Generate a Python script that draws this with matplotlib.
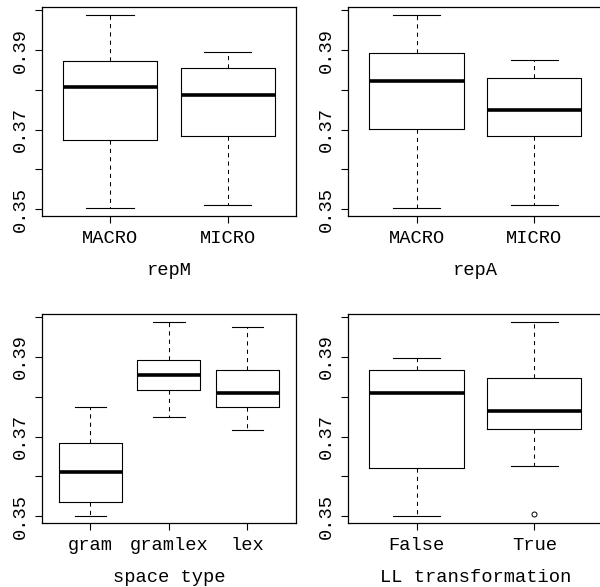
import matplotlib
matplotlib.use("Agg")
import matplotlib.pyplot as plt

plt.rcParams['font.family'] = ['Liberation Mono', 'DejaVu Sans Mono']

# ---- data ----
repM_groups = ["MACRO", "MICRO"]
repM_whislo = [0.3503, 0.3509]
repM_q1 = [0.3674, 0.3683]
repM_med = [0.3806, 0.3788]
repM_q3 = [0.3872, 0.3856]
repM_whishi = [0.3988, 0.3896]
repM_fliers = [[], []]

repA_groups = ["MACRO", "MICRO"]
repA_whislo = [0.3503, 0.3509]
repA_q1 = [0.3702, 0.3683]
repA_med = [0.3823, 0.3750]
repA_q3 = [0.3892, 0.3829]
repA_whishi = [0.3988, 0.3874]
repA_fliers = [[], []]

space_groups = ["gram", "gramlex", "lex"]
space_whislo = [0.3501, 0.3750, 0.3717]
space_q1 = [0.3537, 0.3817, 0.3774]
space_med = [0.3610, 0.3854, 0.3810]
space_q3 = [0.3683, 0.3891, 0.3867]
space_whishi = [0.3775, 0.3988, 0.3974]
space_fliers = [[], [], []]

ll_groups = ["False", "True"]
ll_whislo = [0.3501, 0.3626]
ll_q1 = [0.3620, 0.3719]
ll_med = [0.3810, 0.3763]
ll_q3 = [0.3866, 0.3846]
ll_whishi = [0.3896, 0.3988]
ll_fliers = [[], [0.3507]]

ytick_values = [0.35, 0.36, 0.37, 0.38, 0.39, 0.40]
ytick_labels = ["0.35", "", "0.37", "", "0.39", ""]

panels = [
    ("repM", repM_groups, repM_whislo, repM_q1, repM_med, repM_q3, repM_whishi, repM_fliers),
    ("repA", repA_groups, repA_whislo, repA_q1, repA_med, repA_q3, repA_whishi, repA_fliers),
    ("space type", space_groups, space_whislo, space_q1, space_med, space_q3, space_whishi, space_fliers),
    ("LL transformation", ll_groups, ll_whislo, ll_q1, ll_med, ll_q3, ll_whishi, ll_fliers),
]

W, H = 600, 587
rects_px = [
    (41.7, 7.3, 254.3, 208.7),
    (348.3, 7.3, 254.3, 208.7),
    (41.7, 314.0, 254.3, 209.3),
    (348.3, 314.0, 254.3, 209.3),
]

FS = 13.5
fig = plt.figure(figsize=(W / 100, H / 100), dpi=100)

for (title, groups, wlo, q1, med, q3, whi, fl), (x, y, w, h) in zip(panels, rects_px):
    ax = fig.add_axes([x / W, (H - y - h) / H, w / W, h / H])
    n = len(groups)
    stats = []
    for i in range(n):
        stats.append(dict(whislo=wlo[i], q1=q1[i], med=med[i], q3=q3[i],
                          whishi=whi[i], fliers=fl[i], label=groups[i]))
    ax.bxp(stats, positions=list(range(1, n + 1)), widths=0.8, capwidths=0.4,
           showfliers=True,
           boxprops=dict(color='black', lw=0.8),
           medianprops=dict(color='black', lw=2.6, solid_capstyle='butt'),
           whiskerprops=dict(color='black', lw=0.75, linestyle=(0, (4, 4))),
           capprops=dict(color='black', lw=0.8),
           flierprops=dict(marker='o', markerfacecolor='none', markeredgecolor='black',
                           markersize=3.6, markeredgewidth=0.7, linestyle='none'))
    ax.set_xlim(0.5 - 0.04 * n, n + 0.5 + 0.04 * n)
    ax.set_ylim(0.34825, 0.40075)
    ax.set_yticks(ytick_values)
    ax.set_yticklabels(ytick_labels)
    ax.set_xticks(list(range(1, n + 1)))
    ax.set_xticklabels(groups)
    ax.tick_params(axis='both', direction='out', length=5, width=0.8, labelsize=FS,
                   color='black')
    ax.tick_params(axis='x', pad=5)
    ax.tick_params(axis='y', pad=4.5, labelrotation=90)
    for lab in ax.get_yticklabels():
        lab.set_va('center')
    ax.set_xlabel(title, fontsize=FS, labelpad=11)
    for s in ax.spines.values():
        s.set_linewidth(0.9)
        s.set_color('black')

fig.savefig('out.png', dpi=100)
